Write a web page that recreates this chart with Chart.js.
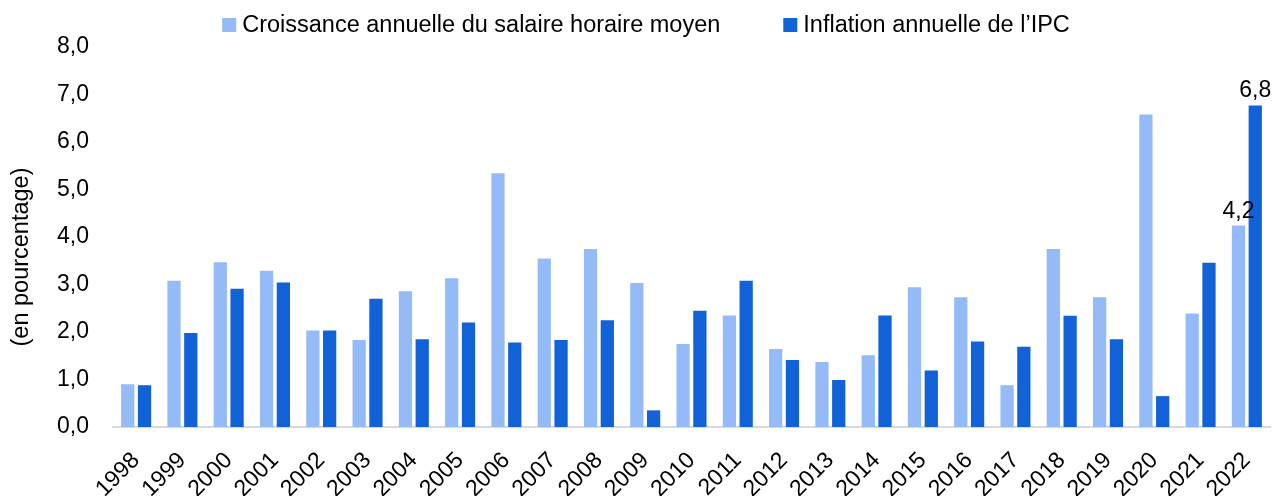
<!DOCTYPE html>
<html>
<head>
<meta charset="utf-8">
<script src="https://cdn.jsdelivr.net/npm/chart.js@4/dist/chart.umd.min.js"></script>
<style>
html,body{margin:0;padding:0;background:#fff;}
#wrap{width:1281px;height:496px;position:relative;}
</style>
</head>
<body>
<div id="wrap"><canvas id="c" width="1281" height="496"></canvas></div>
<script>
const years = ["1998","1999","2000","2001","2002","2003","2004","2005","2006","2007","2008","2009","2010","2011","2012","2013","2014","2015","2016","2017","2018","2019","2020","2021","2022"];
const wageGrowth = [0.90,3.08,3.47,3.29,2.03,1.83,2.86,3.13,5.34,3.55,3.75,3.03,1.75,2.35,1.64,1.37,1.51,2.94,2.73,0.88,3.75,2.73,6.58,2.39,4.24];
const cpiInflation = [0.88,1.98,2.91,3.04,2.03,2.70,1.85,2.20,1.78,1.83,2.25,0.35,2.45,3.08,1.41,0.99,2.35,1.19,1.80,1.69,2.34,1.85,0.65,3.46,6.77];
const seriesNames = ["Croissance annuelle du salaire horaire moyen","Inflation annuelle de l\u2019IPC"];
const seriesColors = ['#94bbf7', '#1161d7'];
const yTicks = [0,1,2,3,4,5,6,7,8];
const yTitle = '(en pourcentage)';
const labelledIndex = 24;

const FONT = "'Liberation Sans', Arial, sans-serif";
const fmt = v => v.toFixed(1).replace('.', ',');

const valueLabels = {
  id: 'valueLabels',
  afterDatasetsDraw(chart) {
    const ctx = chart.ctx;
    ctx.save();
    ctx.font = "23px " + FONT;
    ctx.fillStyle = "#000";
    ctx.textAlign = "center";
    ctx.textBaseline = "alphabetic";
    chart.data.datasets.forEach((ds, di) => {
      const el = chart.getDatasetMeta(di).data[labelledIndex];
      ctx.fillText(fmt(ds.data[labelledIndex]), el.x, el.y - 8);
    });
    ctx.restore();
  }
};

// Legend and rotated axis title drawn as canvas text
const legendAndTitle = {
  id: 'legendAndTitle',
  afterDraw(chart) {
    const ctx = chart.ctx;
    ctx.save();
    ctx.font = "23.5px " + FONT;
    ctx.fillStyle = "#000";
    ctx.textBaseline = "middle";
    ctx.textAlign = "left";
    const box = 14, gapBox = 6, gapItem = 63, cy = 25;
    const widths = chart.data.datasets.map(d => ctx.measureText(d.label).width);
    const total = widths.reduce((a, w) => a + box + gapBox + w, 0) + gapItem * (widths.length - 1);
    let x = 646 - total / 2;
    chart.data.datasets.forEach((d, i) => {
      ctx.fillStyle = d.backgroundColor;
      ctx.fillRect(x, cy - box / 2, box, box);
      ctx.fillStyle = "#000";
      ctx.fillText(d.label, x + box + gapBox, cy + 1);
      x += box + gapBox + widths[i] + gapItem;
    });
    // y-axis title
    const ca = chart.chartArea;
    ctx.translate(22, (ca.top + ca.bottom) / 2 + 20);
    ctx.rotate(-Math.PI / 2);
    ctx.textAlign = "center";
    ctx.fillText(yTitle, 0, 0);
    ctx.restore();
  }
};

new Chart(document.getElementById('c'), {
  type: 'bar',
  data: {
    labels: years,
    datasets: [
      { label: seriesNames[0], data: wageGrowth, backgroundColor: seriesColors[0], categoryPercentage: 0.725, barPercentage: 0.79 },
      { label: seriesNames[1], data: cpiInflation, backgroundColor: seriesColors[1], categoryPercentage: 0.725, barPercentage: 0.79 }
    ]
  },
  options: {
    responsive: false,
    animation: false,
    layout: { padding: { left: 0, right: 11, top: 47, bottom: 0 } },
    plugins: {
      legend: { display: false },
      tooltip: { enabled: false }
    },
    scales: {
      x: {
        grid: { display: false },
        border: { display: true, color: '#d9d9d9', width: 2 },
        ticks: {
          font: { family: FONT, size: 23 },
          color: '#000',
          autoSkip: false,
          minRotation: 45,
          maxRotation: 45,
          padding: 12
        },
        afterFit(s) { s.height = 69; }
      },
      y: {
        min: 0, max: 8,
        afterBuildTicks(s) { s.ticks = yTicks.map(v => ({ value: v })); },
        grid: { display: false },
        border: { display: false },
        ticks: {
          font: { family: FONT, size: 23 },
          color: '#000',
          padding: 16,
          callback: v => fmt(v)
        },
        afterFit(s) { s.width = 113; }
      }
    }
  },
  plugins: [valueLabels, legendAndTitle]
});
</script>
</body>
</html>
